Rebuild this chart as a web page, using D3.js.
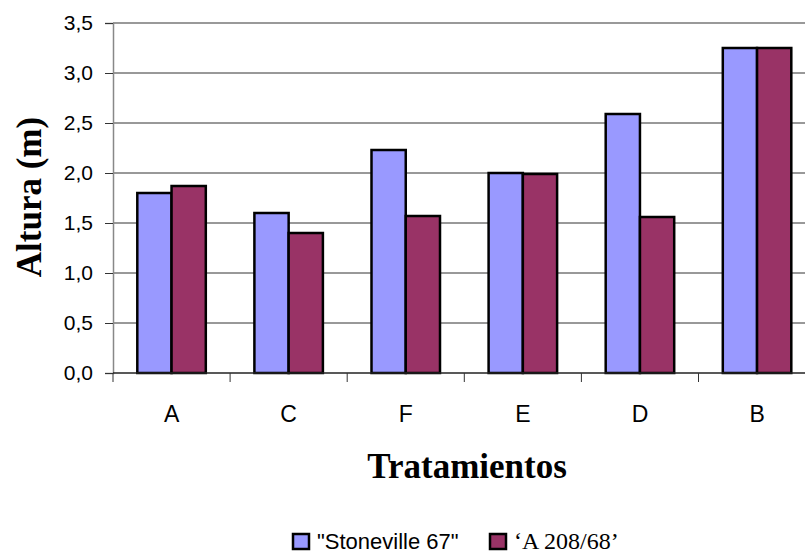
<!DOCTYPE html>
<html>
<head>
<meta charset="utf-8">
<script src="https://cdn.jsdelivr.net/npm/d3@7"></script>
<style>
  html, body { margin: 0; padding: 0; background: #fff; }
  svg { display: block; }
</style>
</head>
<body>
<svg id="chart" width="805" height="555"></svg>
<script>
// Treatments in plotted order
const categories = ["A", "C", "F", "E", "D", "B"];
// Plant height (m) per cultivar
const stoneville = [1.80, 1.60, 2.23, 2.00, 2.59, 3.25];
const a208 = [1.87, 1.40, 1.57, 1.99, 1.56, 3.25];
const seriesNames = ["\"Stoneville 67\"", "\u2018A 208/68\u2019"];
const seriesColors = ["#9999FF", "#993366"];
const yTicks = [0, 0.5, 1, 1.5, 2, 2.5, 3, 3.5];

const svg = d3.select("#chart");
const plotLeft = 113, plotRight = 815.6, plotTop = 23, plotBottom = 373;

// group gap split evenly on both sides of each category slot
const x0 = d3.scaleBand().domain(categories).range([plotLeft, plotRight])
  .paddingInner(0.415).paddingOuter(0.2075);
const x1 = d3.scaleBand().domain([0, 1]).range([0, x0.bandwidth()]);
const y = d3.scaleLinear().domain([0, 3.5]).range([plotBottom, plotTop]);

const fmt = d => d3.format(".1f")(d).replace(".", ",");

// horizontal gridlines
svg.append("g")
  .selectAll("line")
  .data(yTicks.filter(t => t > 0 && t < 3.5))
  .join("line")
  .attr("x1", plotLeft).attr("x2", 805)
  .attr("y1", d => y(d)).attr("y2", d => y(d))
  .attr("stroke", "#333").attr("stroke-width", 1);

// plot-area frame (top)
svg.append("line")
  .attr("x1", plotLeft).attr("x2", 805).attr("y1", y(3.5)).attr("y2", y(3.5))
  .attr("stroke", "#999").attr("stroke-width", 2);

// bars
const rows = categories.map((c, i) => ({ c, vals: [stoneville[i], a208[i]] }));
const groups = svg.append("g").selectAll("g")
  .data(rows).join("g")
  .attr("transform", d => `translate(${x0(d.c)},0)`);
groups.selectAll("rect")
  .data(d => d.vals.map((v, k) => ({ v, k })))
  .join("rect")
  .attr("x", d => x1(d.k))
  .attr("width", x1.bandwidth())
  .attr("y", d => y(d.v))
  .attr("height", d => y(0) - y(d.v))
  .attr("fill", d => seriesColors[d.k])
  .attr("stroke", "#000")
  .attr("stroke-width", 2.5);

// y axis
const yAxis = svg.append("g")
  .attr("transform", `translate(${plotLeft},0)`)
  .call(d3.axisLeft(y).tickValues(yTicks).tickFormat(fmt).tickSize(8).tickPadding(12));
yAxis.select(".domain").attr("stroke", "#888").attr("stroke-width", 1.5);
yAxis.selectAll(".tick line").attr("stroke", "#333");
yAxis.selectAll("text")
  .attr("font-family", "Liberation Sans, Arial, sans-serif")
  .attr("font-size", 21).attr("fill", "#000");

// x axis with ticks on the category boundaries
const xEdges = d3.scaleLinear().domain([0, categories.length]).range([plotLeft, plotRight]);
const xAxis = svg.append("g").attr("transform", `translate(0,${plotBottom})`);
xAxis.append("line")
  .attr("x1", plotLeft).attr("x2", 805).attr("y1", 0).attr("y2", 0)
  .attr("stroke", "#222").attr("stroke-width", 1.5);
xAxis.selectAll(".edge")
  .data(d3.range(categories.length))
  .join("line")
  .attr("class", "edge")
  .attr("x1", d => xEdges(d)).attr("x2", d => xEdges(d))
  .attr("y1", 0).attr("y2", 9)
  .attr("stroke", "#333");
xAxis.selectAll(".cat")
  .data(categories)
  .join("text")
  .attr("class", "cat")
  .attr("x", d => x0(d) + x0.bandwidth() / 2)
  .attr("y", 49)
  .attr("text-anchor", "middle")
  .attr("font-family", "Liberation Sans, Arial, sans-serif")
  .attr("font-size", 23)
  .text(d => d);

// axis titles
svg.append("text")
  .attr("x", 467).attr("y", 478)
  .attr("text-anchor", "middle")
  .attr("font-family", "Liberation Serif, Times New Roman, serif")
  .attr("font-weight", "bold").attr("font-size", 35)
  .text("Tratamientos");
svg.append("text")
  .attr("transform", "translate(41,197) rotate(-90)")
  .attr("text-anchor", "middle")
  .attr("font-family", "Liberation Serif, Times New Roman, serif")
  .attr("font-weight", "bold").attr("font-size", 35)
  .text("Altura (m)");

// legend
const legendItems = [
  { x: 293, tx: 317, font: "Liberation Sans, Arial, sans-serif", size: 22 },
  { x: 490, tx: 514, font: "Liberation Serif, Times New Roman, serif", size: 24 }
];
const lg = svg.append("g");
legendItems.forEach((it, k) => {
  lg.append("rect")
    .attr("x", it.x).attr("y", 534).attr("width", 16).attr("height", 15)
    .attr("fill", seriesColors[k]).attr("stroke", "#000").attr("stroke-width", 2.5);
  lg.append("text")
    .attr("x", it.tx).attr("y", 549)
    .attr("font-family", it.font).attr("font-size", it.size)
    .text(seriesNames[k]);
});
</script>
</body>
</html>
